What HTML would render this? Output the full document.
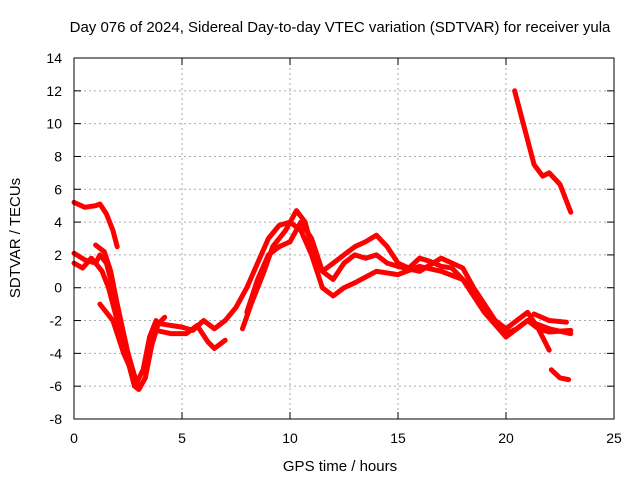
<!DOCTYPE html>
<html><head><meta charset="utf-8"><style>
body{margin:0;background:#fff;}
svg{display:block;font-family:"Liberation Sans",sans-serif;}
</style></head><body>
<svg id="chart" width="640" height="480">
<text x="340" y="32" font-size="15" text-anchor="middle">Day 076 of 2024, Sidereal Day-to-day VTEC variation (SDTVAR) for receiver yula</text>
<text x="340" y="471" font-size="15" text-anchor="middle">GPS time / hours</text>
<text transform="translate(20,238) rotate(-90)" font-size="15" text-anchor="middle">SDTVAR / TECUs</text>
<g id="grid"></g><g id="series"></g>
<rect x="74" y="58" width="540" height="361" fill="none" stroke="#000"/>
</svg>
<script>
const xTicks=[0,5,10,15,20,25];
const yTicks=[-8,-6,-4,-2,0,2,4,6,8,10,12,14];
const s1=[[0,5.2],[0.5,4.9],[1,5.0],[1.2,5.1],[1.5,4.5],[1.8,3.5],[2.0,2.5]];
const s2=[[0,2.1],[0.5,1.7],[1,1.5],[1.3,1.0],[1.6,0],[2,-2],[2.5,-4.5],[2.8,-6],[3,-6.2],[3.3,-5.5],[3.6,-3.5],[3.9,-2.2],[4.2,-1.8]];
const s3=[[0,1.5],[0.4,1.2],[0.8,1.8],[1,1.5],[1.2,2.0],[1.5,1.5],[2,-1],[2.5,-4],[2.9,-5.8],[3.2,-5],[3.5,-3],[3.8,-2]];
const s4=[[1.0,2.6],[1.4,2.2],[1.7,1.0],[2.0,-1],[2.4,-3.5],[2.8,-5.5],[3.0,-6.0]];
const s5=[[1.2,-1.0],[1.8,-2],[2.3,-4],[2.7,-5.2]];
const s6=[[4,-2.2],[5,-2.4],[5.5,-2.6],[6,-2],[6.5,-2.5],[7,-2],[7.5,-1.2],[8,0],[8.5,1.5],[9,3],[9.5,3.8],[10,4],[10.5,3.5],[11,2],[11.5,0],[12,-0.5],[12.5,0],[13,0.3],[14,1],[15,0.8],[16,1.3],[17,1.0],[18,0.5],[19,-1.5],[20,-3],[21,-2],[22,-2.5],[23,-2.8]];
const s7=[[3.8,-2.6],[4.5,-2.8],[5.2,-2.8],[5.7,-2.3],[6.2,-3.3],[6.5,-3.7],[7,-3.2]];
const s8=[[7.8,-2.5],[8.2,-1],[8.8,1],[9.2,2.5],[9.8,3.5],[10.3,4.7],[10.7,4],[11,2.5],[11.5,1],[12,1.5],[12.5,2],[13,2.5],[13.5,2.8],[14,3.2],[14.5,2.5],[15,1.5],[15.5,1.2],[16,1.8],[16.5,1.6],[17,1.3],[17.5,1.2],[18,0.5],[19,-1],[19.5,-2],[20,-2.5],[20.5,-2],[21,-1.5],[21.5,-2.5],[22,-3.8]];
const s9=[[8,-1.5],[8.5,0.5],[9,2],[9.5,2.5],[10,2.8],[10.5,4],[11,3],[11.5,1],[12,0.5],[12.5,1.5],[13,2],[13.5,1.8],[14,2],[14.5,1.5],[15,1.3],[16,1.0],[17,1.8],[18,1.2],[18.5,0],[19,-1],[19.5,-2.2],[20,-2.8],[20.5,-2.5],[21,-2.0],[21.5,-2.5],[22,-2.7],[23,-2.6]];
const s10=[[20.4,12],[20.7,10.5],[21,9],[21.3,7.5],[21.7,6.8],[22,7.0],[22.5,6.3],[23,4.6]];
const s11=[[21.3,-1.6],[22,-2],[22.8,-2.1]];
const s12=[[22.1,-5],[22.5,-5.5],[22.9,-5.6]];
const allSeries=[s1,s2,s3,s4,s5,s6,s7,s8,s9,s10,s11,s12];
const X=v=>74+v/25*540, Y=v=>419-(v+8)/22*361;
const NS="http://www.w3.org/2000/svg";
const g=document.getElementById('grid'), sg=document.getElementById('series');
function mk(tag,attrs,parent){const e=document.createElementNS(NS,tag);for(const k in attrs)e.setAttribute(k,attrs[k]);parent.appendChild(e);return e;}
xTicks.forEach(t=>{const x=X(t);
 if(t>0&&t<25){const l=mk('line',{x1:x,x2:x,y1:58,y2:419,stroke:'#aaa','stroke-dasharray':'2,3'},g);
 
 }
 mk('line',{x1:x,x2:x,y1:419,y2:412,stroke:'#000'},g);mk('line',{x1:x,x2:x,y1:58,y2:65,stroke:'#000'},g);
 const tx=mk('text',{x:x,y:443,'font-size':14,'text-anchor':'middle'},g);tx.textContent=t;
 
 });
yTicks.forEach(t=>{const y=Y(t);
 if(t>-8&&t<14){const l=mk('line',{x1:74,x2:614,y1:y,y2:y,stroke:'#aaa','stroke-dasharray':'2,3'},g);
 
 }
 mk('line',{x1:74,x2:81,y1:y,y2:y,stroke:'#000'},g);mk('line',{x1:614,x2:607,y1:y,y2:y,stroke:'#000'},g);
 const tx=mk('text',{x:62,y:y+5,'font-size':14,'text-anchor':'end'},g);tx.textContent=t;
 
 });
allSeries.forEach(s=>{
 const p=mk('polyline',{points:s.map(d=>X(d[0])+','+Y(d[1])).join(' '),fill:'none',stroke:'#f00','stroke-width':5,'stroke-linejoin':'round','stroke-linecap':'round'},sg);
 
 
});
</script>
</body></html>
